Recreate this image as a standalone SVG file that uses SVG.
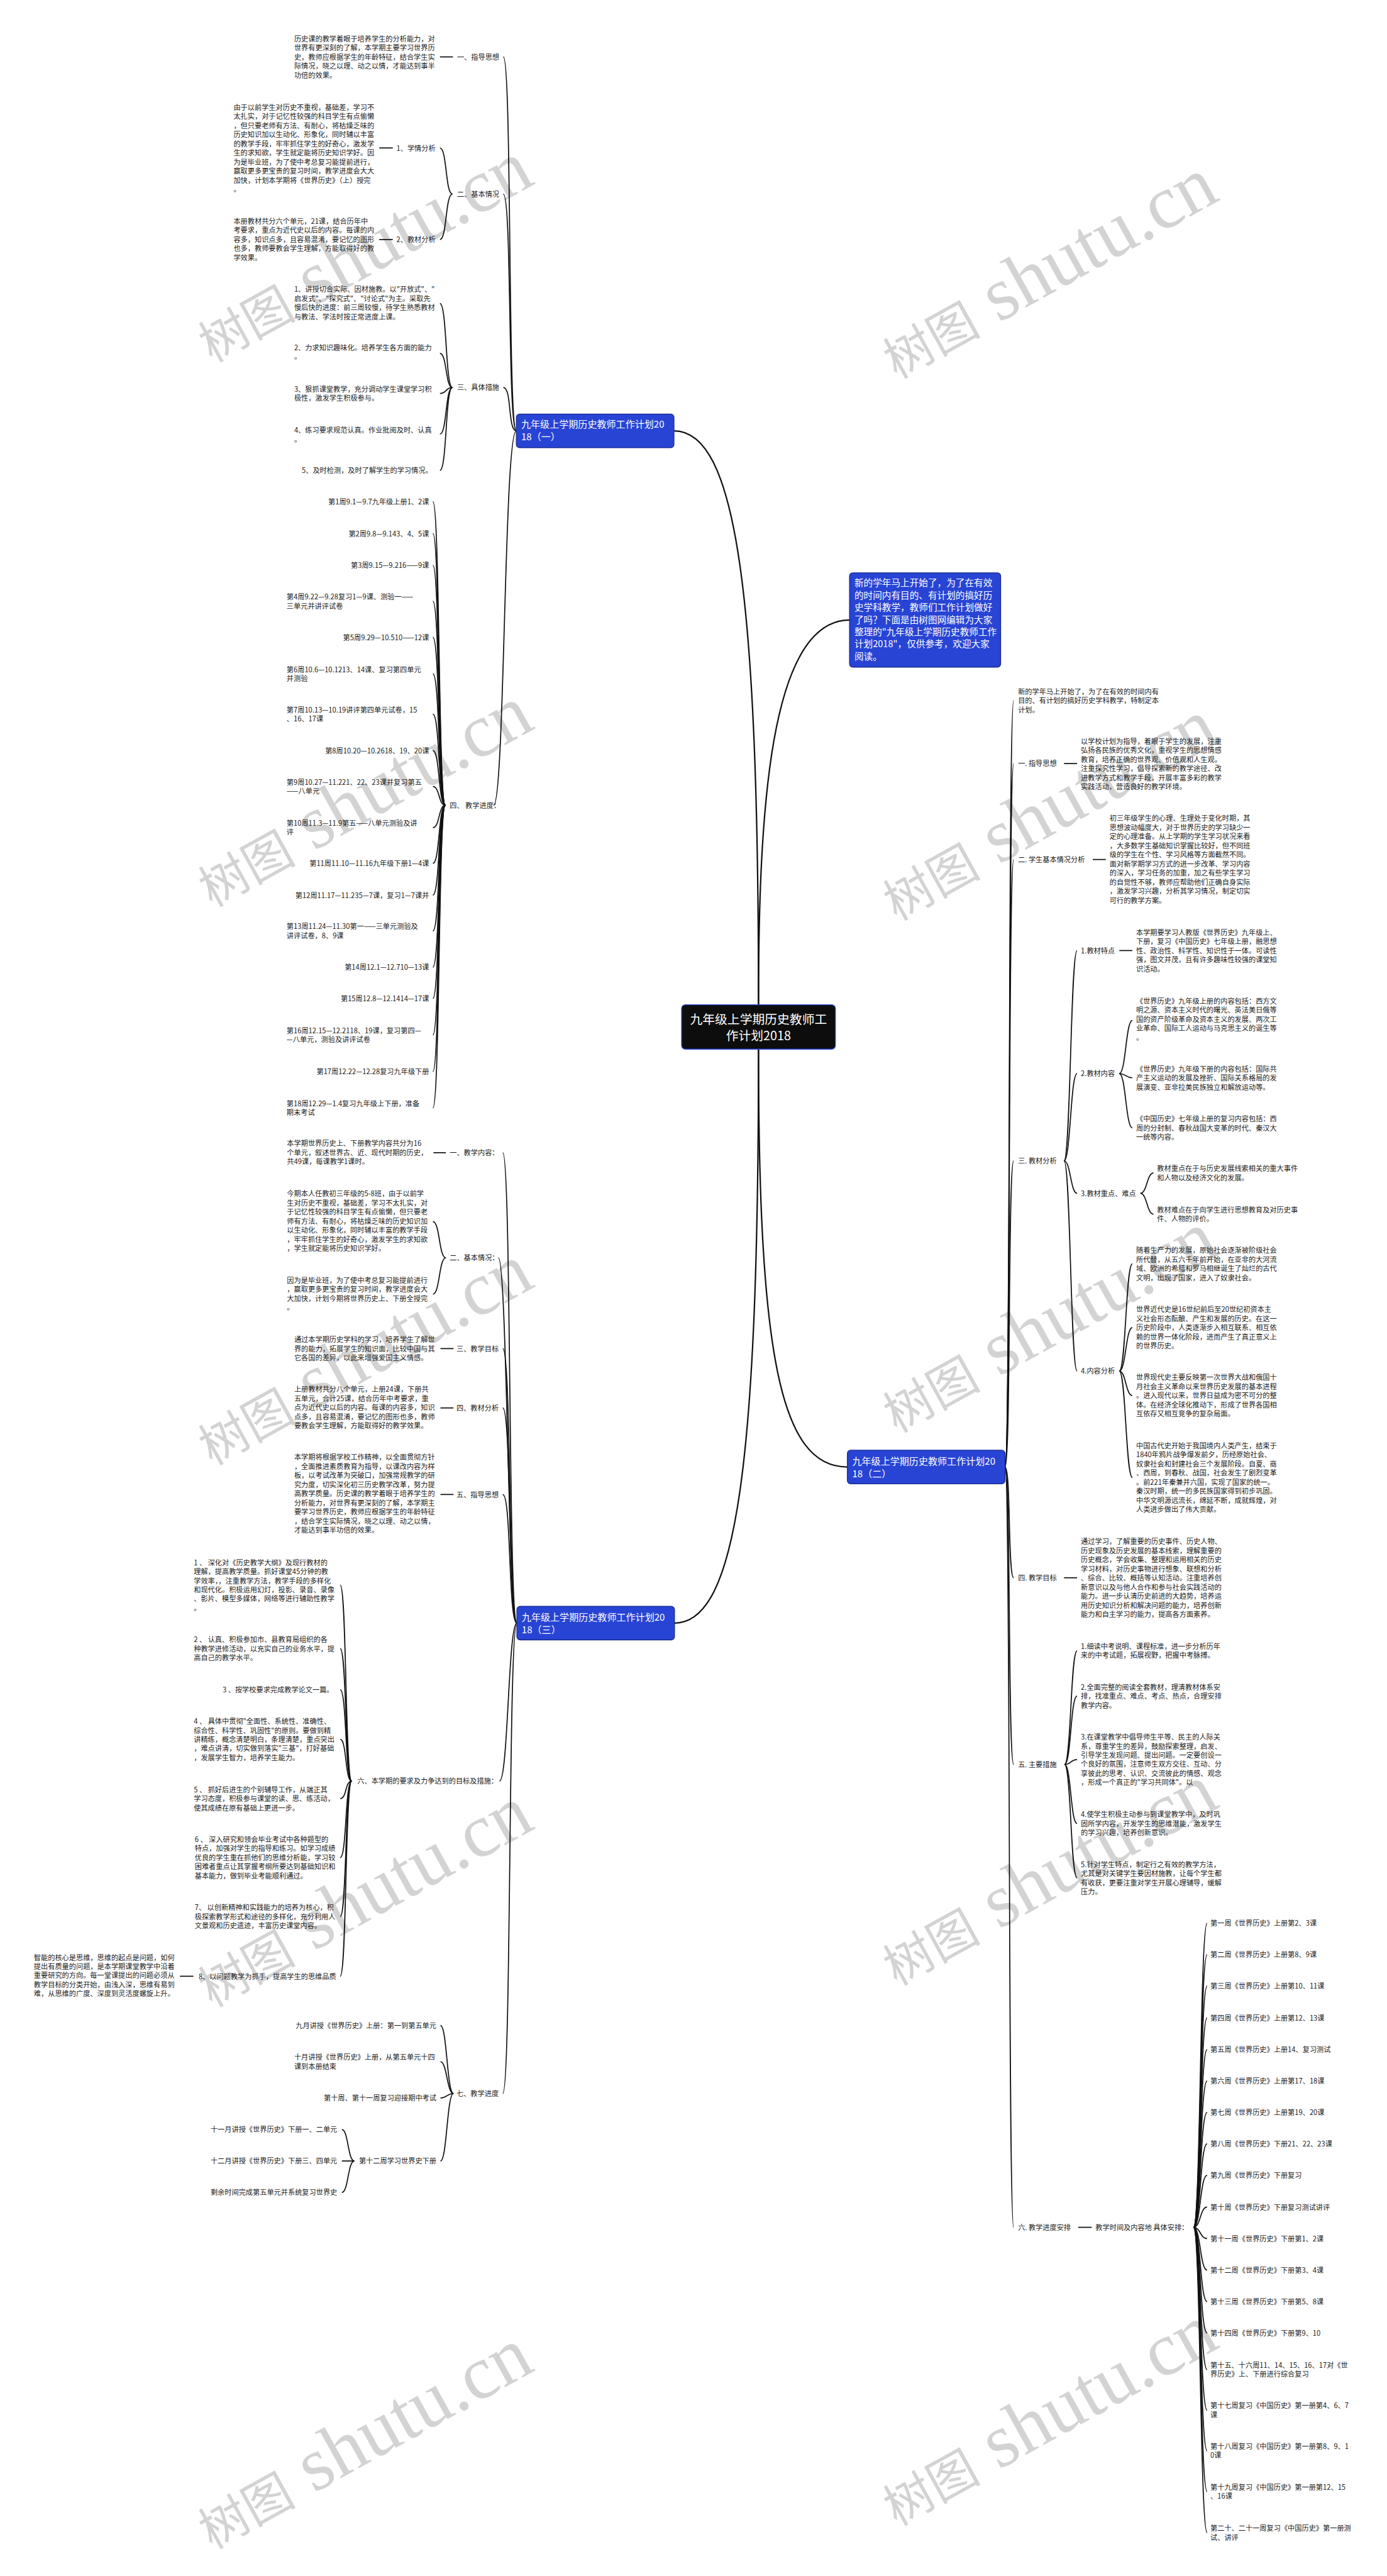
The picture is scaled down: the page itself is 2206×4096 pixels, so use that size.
<svg xmlns="http://www.w3.org/2000/svg" width="2206" height="4096" viewBox="0 0 2206 4096">
<style>
.t{font-family:"Noto Sans CJK SC","Noto Sans",sans-serif;font-size:13px;fill:#1a1a1a}
.e{text-anchor:end}
.bx{fill:#2844d4;stroke:#17298f;stroke-width:1.5}
.bt{font-family:"Noto Sans CJK SC","Noto Sans",sans-serif;font-size:17.5px;fill:#fff}
.rt{font-family:"Noto Sans CJK SC","Noto Sans",sans-serif;font-size:23px;fill:#fff;text-anchor:middle}
.c{fill:none;stroke:#111;stroke-width:2}
.m{fill:none;stroke:#111;stroke-width:2.6}
.wm{fill:#d3d3d3}
.wa{font-family:"Noto Sans CJK SC",sans-serif;font-size:90px}
.wb{font-family:"Liberation Serif",serif;font-size:140px}
</style>
<rect width="2206" height="4096" fill="#fff"/>
<g transform="scale(0.8617)">
<g id="watermarks" class="wm">
<text transform="translate(391,670) rotate(-29)"><tspan class="wa">树图</tspan><tspan class="wb"> shutu.cn</tspan></text>
<text transform="translate(391,1675) rotate(-29)"><tspan class="wa">树图</tspan><tspan class="wb"> shutu.cn</tspan></text>
<text transform="translate(391,2705) rotate(-29)"><tspan class="wa">树图</tspan><tspan class="wb"> shutu.cn</tspan></text>
<text transform="translate(391,3705) rotate(-29)"><tspan class="wa">树图</tspan><tspan class="wb"> shutu.cn</tspan></text>
<text transform="translate(391,4705) rotate(-29)"><tspan class="wa">树图</tspan><tspan class="wb"> shutu.cn</tspan></text>
<text transform="translate(1655,700) rotate(-29)"><tspan class="wa">树图</tspan><tspan class="wb"> shutu.cn</tspan></text>
<text transform="translate(1655,1700) rotate(-29)"><tspan class="wa">树图</tspan><tspan class="wb"> shutu.cn</tspan></text>
<text transform="translate(1655,2645) rotate(-29)"><tspan class="wa">树图</tspan><tspan class="wb"> shutu.cn</tspan></text>
<text transform="translate(1655,3665) rotate(-29)"><tspan class="wa">树图</tspan><tspan class="wb"> shutu.cn</tspan></text>
<text transform="translate(1655,4662) rotate(-29)"><tspan class="wa">树图</tspan><tspan class="wb"> shutu.cn</tspan></text>
</g>

<g id="connectors">
<!-- root level -->
<path class="m" d="M1400,1854 C1400,1500 1420,1144 1568,1144"/>
<path class="m" d="M1400,1854 C1400,1100 1360,795 1244,795"/>
<path class="m" d="M1400,1936 C1400,2700 1360,2995 1245,2995"/>
<path class="m" d="M1400,1936 C1400,2500 1440,2707 1564,2707"/>
<!-- branch 1 -->
<path class="c" d="M953,795 C937,795 945,105 929,105"/>
<path class="c" d="M953,795 C937,795 945,358 929,358"/>
<path class="c" d="M953,795 C937,795 945,715 929,715"/>
<path class="c" d="M953,795 C930,795 932,1486 911,1486"/>
<path class="c" d="M812,105 L836,105"/>
<path class="c" d="M835,358 C822,358 825,273 812,273"/>
<path class="c" d="M835,358 C822,358 825,442 812,442"/>
<path class="c" d="M700,273 L725,273"/>
<path class="c" d="M700,442 L725,442"/>
<path class="c" d="M835,715 C822,715 825,560 812,560"/>
<path class="c" d="M835,715 C822,715 825,652 812,652"/>
<path class="c" d="M835,715 C822,715 825,726 812,726"/>
<path class="c" d="M835,715 C822,715 825,801 812,801"/>
<path class="c" d="M835,715 C822,715 825,868 812,868"/>
<path class="c" d="M822,1486 C809,1486 812,925.7 799,925.7"/>
<path class="c" d="M822,1486 C809,1486 812,984.6 799,984.6"/>
<path class="c" d="M822,1486 C809,1486 812,1043 799,1043"/>
<path class="c" d="M822,1486 C809,1486 812,1109.4 799,1109.4"/>
<path class="c" d="M822,1486 C809,1486 812,1176 799,1176"/>
<path class="c" d="M822,1486 C809,1486 812,1243.4 799,1243.4"/>
<path class="c" d="M822,1486 C809,1486 812,1317.8 799,1317.8"/>
<path class="c" d="M822,1486 C809,1486 812,1385 799,1385"/>
<path class="c" d="M822,1486 C809,1486 812,1451.4 799,1451.4"/>
<path class="c" d="M822,1486 C809,1486 812,1527 799,1527"/>
<path class="c" d="M822,1486 C809,1486 812,1593 799,1593"/>
<path class="c" d="M822,1486 C809,1486 812,1651.7 799,1651.7"/>
<path class="c" d="M822,1486 C809,1486 812,1717.9 799,1717.9"/>
<path class="c" d="M822,1486 C809,1486 812,1784.7 799,1784.7"/>
<path class="c" d="M822,1486 C809,1486 812,1842.5 799,1842.5"/>
<path class="c" d="M822,1486 C809,1486 812,1909.9 799,1909.9"/>
<path class="c" d="M822,1486 C809,1486 812,1977 799,1977"/>
<path class="c" d="M822,1486 C809,1486 812,2044.4 799,2044.4"/>
<!-- branch 3 -->
<path class="c" d="M954,2995 C938,2995 944,2127 928,2127"/>
<path class="c" d="M954,2995 C938,2995 936,2321 920,2321"/>
<path class="c" d="M954,2995 C938,2995 944,2488.5 928,2488.5"/>
<path class="c" d="M954,2995 C938,2995 944,2598 928,2598"/>
<path class="c" d="M954,2995 C938,2995 944,2757.7 928,2757.7"/>
<path class="c" d="M954,2995 C938,2995 938,3286.6 922,3286.6"/>
<path class="c" d="M954,2995 C938,2995 944,3863 928,3863"/>
<path class="c" d="M800,2127 L823,2127"/>
<path class="c" d="M823,2321 C810,2321 812,2254 799,2254"/>
<path class="c" d="M823,2321 C810,2321 812,2388 799,2388"/>
<path class="c" d="M813,2488.5 L837,2488.5"/>
<path class="c" d="M813,2598 L837,2598"/>
<path class="c" d="M813,2757.7 L837,2757.7"/>
<path class="c" d="M649,3286.6 C637,3286.6 640,2925 628,2925"/>
<path class="c" d="M649,3286.6 C637,3286.6 640,3042.2 628,3042.2"/>
<path class="c" d="M649,3286.6 C637,3286.6 640,3118 628,3118"/>
<path class="c" d="M649,3286.6 C637,3286.6 640,3209.6 628,3209.6"/>
<path class="c" d="M649,3286.6 C637,3286.6 640,3318.8 628,3318.8"/>
<path class="c" d="M649,3286.6 C637,3286.6 640,3427.6 628,3427.6"/>
<path class="c" d="M649,3286.6 C637,3286.6 640,3536.8 628,3536.8"/>
<path class="c" d="M649,3286.6 C637,3286.6 640,3646.7 628,3646.7"/>
<path class="c" d="M332,3646.7 L357,3646.7"/>
<path class="c" d="M837,3863 C825,3863 825,3737.6 813,3737.6"/>
<path class="c" d="M837,3863 C825,3863 825,3804.4 813,3804.4"/>
<path class="c" d="M837,3863 C825,3863 825,3871.5 813,3871.5"/>
<path class="c" d="M837,3863 C825,3863 825,3987.6 813,3987.6"/>
<path class="c" d="M654,3987.6 C642,3987.6 643,3929.6 631,3929.6"/>
<path class="c" d="M654,3987.6 L631,3987.6"/>
<path class="c" d="M654,3987.6 C642,3987.6 643,4045.7 631,4045.7"/>
<!-- branch 2 -->
<path class="c" d="M1855,2707 C1866,2707 1860,1292.5 1871,1292.5"/>
<path class="c" d="M1855,2707 C1866,2707 1860,1409 1871,1409"/>
<path class="c" d="M1855,2707 C1866,2707 1860,1586 1871,1586"/>
<path class="c" d="M1855,2707 C1866,2707 1860,2142 1871,2142"/>
<path class="c" d="M1855,2707 C1866,2707 1860,2911.4 1871,2911.4"/>
<path class="c" d="M1855,2707 C1866,2707 1860,3256 1871,3256"/>
<path class="c" d="M1855,2707 C1866,2707 1860,4110 1871,4110"/>
<path class="c" d="M1964,1409 L1988,1409"/>
<path class="c" d="M2017,1586 L2041,1586"/>
<path class="c" d="M1964,2142 C1976,2142 1976,1754 1988,1754"/>
<path class="c" d="M1964,2142 C1976,2142 1976,1981 1988,1981"/>
<path class="c" d="M1964,2142 C1976,2142 1976,2202 1988,2202"/>
<path class="c" d="M1964,2142 C1976,2142 1976,2530 1988,2530"/>
<path class="c" d="M2066,1754 L2090,1754"/>
<path class="c" d="M2066,1981 C2078,1981 2078,1883 2090,1883"/>
<path class="c" d="M2066,1981 C2078,1981 2078,1988.8 2090,1988.8"/>
<path class="c" d="M2066,1981 C2078,1981 2078,2081.3 2090,2081.3"/>
<path class="c" d="M2105,2202 C2117,2202 2117,2164.4 2129,2164.4"/>
<path class="c" d="M2105,2202 C2117,2202 2117,2240.4 2129,2240.4"/>
<path class="c" d="M2066,2530 C2078,2530 2078,2332.2 2090,2332.2"/>
<path class="c" d="M2066,2530 C2078,2530 2078,2449.6 2090,2449.6"/>
<path class="c" d="M2066,2530 C2078,2530 2078,2575.1 2090,2575.1"/>
<path class="c" d="M2066,2530 C2078,2530 2078,2726.3 2090,2726.3"/>
<path class="c" d="M1964,2911.4 L1988,2911.4"/>
<path class="c" d="M1965,3256 C1977,3256 1976,3046.2 1988,3046.2"/>
<path class="c" d="M1965,3256 C1977,3256 1976,3129.8 1988,3129.8"/>
<path class="c" d="M1965,3256 C1977,3256 1976,3247 1988,3247"/>
<path class="c" d="M1965,3256 C1977,3256 1976,3364.8 1988,3364.8"/>
<path class="c" d="M1965,3256 C1977,3256 1976,3465.2 1988,3465.2"/>
<path class="c" d="M1990,4110 L2015,4110"/>
<path class="c" d="M2203,4110 C2216,4110 2215,3549 2228,3549"/>
<path class="c" d="M2203,4110 C2216,4110 2215,3607 2228,3607"/>
<path class="c" d="M2203,4110 C2216,4110 2215,3664.7 2228,3664.7"/>
<path class="c" d="M2203,4110 C2216,4110 2215,3723.6 2228,3723.6"/>
<path class="c" d="M2203,4110 C2216,4110 2215,3781.8 2228,3781.8"/>
<path class="c" d="M2203,4110 C2216,4110 2215,3840 2228,3840"/>
<path class="c" d="M2203,4110 C2216,4110 2215,3898 2228,3898"/>
<path class="c" d="M2203,4110 C2216,4110 2215,3956 2228,3956"/>
<path class="c" d="M2203,4110 C2216,4110 2215,4014 2228,4014"/>
<path class="c" d="M2203,4110 C2216,4110 2215,4072.5 2228,4072.5"/>
<path class="c" d="M2203,4110 C2216,4110 2215,4130.7 2228,4130.7"/>
<path class="c" d="M2203,4110 C2216,4110 2215,4189 2228,4189"/>
<path class="c" d="M2203,4110 C2216,4110 2215,4247 2228,4247"/>
<path class="c" d="M2203,4110 C2216,4110 2215,4305 2228,4305"/>
<path class="c" d="M2203,4110 C2216,4110 2215,4372.5 2228,4372.5"/>
<path class="c" d="M2203,4110 C2216,4110 2215,4447.5 2228,4447.5"/>
<path class="c" d="M2203,4110 C2216,4110 2215,4522.5 2228,4522.5"/>
<path class="c" d="M2203,4110 C2216,4110 2215,4597.5 2228,4597.5"/>
<path class="c" d="M2203,4110 C2216,4110 2215,4673.3 2228,4673.3"/>
</g>

<g id="root">
<rect x="1258" y="1854" width="284" height="82" rx="7" fill="#0d0d0d" stroke="#2a4bd8" stroke-width="1.5"/>
<text class="rt"><tspan x="1400" y="1889">九年级上学期历史教师工</tspan><tspan x="1400" y="1919">作计划2018</tspan></text>
</g>

<g id="intro">
<rect class="bx" x="1568" y="1057" width="279" height="174" rx="6"/>
<text class="bt" style="font-size:17px"><tspan x="1577" y="1082">新的学年马上开始了，为了在有效</tspan><tspan x="1577" y="1104.5">的时间内有目的、有计划的搞好历</tspan><tspan x="1577" y="1127">史学科教学，教师们工作计划做好</tspan><tspan x="1577" y="1149.5">了吗？下面是由树图网编辑为大家</tspan><tspan x="1577" y="1172">整理的&quot;九年级上学期历史教师工作</tspan><tspan x="1577" y="1194.5">计划2018&quot;，仅供参考，欢迎大家</tspan><tspan x="1577" y="1217">阅读。</tspan></text>
</g>

<g id="branch1">
<rect class="bx" x="953" y="764" width="291" height="62" rx="6"/>
<text class="bt"><tspan x="962" y="789.5">九年级上学期历史教师工作计划20</tspan><tspan x="962" y="812.5">18（一）</tspan></text>
</g>
<g id="b1-1">
<text class="t" x="843.6" y="110">一、指导思想</text>
<text class="t"><tspan x="543" y="76.4">历史课的教学着眼于培养学生的分析能力，对</tspan><tspan x="543" y="93.2">世界有更深刻的了解，本学期主要学习世界历</tspan><tspan x="543" y="110">史，教师应根据学生的年龄特征，结合学生实</tspan><tspan x="543" y="126.8">际情况，晓之以理、动之以情，才能达到事半</tspan><tspan x="543" y="143.6">功倍的效果。</tspan></text>
</g>
<g id="b1-2">
<text class="t" x="843.6" y="363">二、基本情况</text>
<text class="t" x="731.7" y="278">1、学情分析</text>
<text class="t"><tspan x="431" y="203">由于以前学生对历史不重视，基础差，学习不</tspan><tspan x="431" y="219.8">太扎实，对于记忆性较强的科目学生有点偷懒</tspan><tspan x="431" y="236.6">，但只要老师有方法、有耐心，将枯燥乏味的</tspan><tspan x="431" y="253.4">历史知识加以生动化、形象化，同时辅以丰富</tspan><tspan x="431" y="270.2">的教学手段，牢牢抓住学生的好奇心，激发学</tspan><tspan x="431" y="287">生的求知欲，学生就定能将历史知识学好。因</tspan><tspan x="431" y="303.8">为是毕业班，为了使中考总复习能提前进行，</tspan><tspan x="431" y="320.6">赢取更多更宝贵的复习时间，教学进度会大大</tspan><tspan x="431" y="337.4">加快，计划本学期将《世界历史》（上）授完</tspan><tspan x="431" y="354.2">。</tspan></text>
<text class="t" x="731.7" y="447">2、教材分析</text>
<text class="t"><tspan x="431" y="413">本册教材共分六个单元，21课，结合历年中</tspan><tspan x="431" y="429.8">考要求，重点为近代史以后的内容。每课的内</tspan><tspan x="431" y="446.6">容多，知识点多，且容易混淆，要记忆的图形</tspan><tspan x="431" y="463.4">也多，教师要教会学生理解，方能取得好的教</tspan><tspan x="431" y="480.2">学效果。</tspan></text>
</g>
<g id="b1-3">
<text class="t" x="843.6" y="720">三、具体措施</text>
<text class="t"><tspan x="543" y="539">1、讲授切合实际、因材施教。以&quot;开放式&quot;、&quot;</tspan><tspan x="543" y="555.8">启发式&quot;、&quot;探究式&quot;、&quot;讨论式&quot;为主。采取先</tspan><tspan x="543" y="572.6">慢后快的进度：前三周较慢，待学生熟悉教材</tspan><tspan x="543" y="589.4">与教法、学法时按正常进度上课。</tspan></text>
<text class="t"><tspan x="543" y="646">2、力求知识趣味化。培养学生各方面的能力</tspan><tspan x="543" y="662.8">。</tspan></text>
<text class="t"><tspan x="543" y="723">3、狠抓课堂教学，充分调动学生课堂学习积</tspan><tspan x="543" y="739.8">极性，激发学生积极参与。</tspan></text>
<text class="t"><tspan x="543" y="798.6">4、练习要求规范认真。作业批阅及时、认真</tspan><tspan x="543" y="815.4">。</tspan></text>
<text class="t e" x="798" y="873">5、及时检测，及时了解学生的学习情况。</text>
</g>
<g id="b1-4">
<text class="t" x="830" y="1491">四、 教学进度：</text>
<text class="t e" x="792" y="930.7">第1周9.1—9.7九年级上册1、2课</text>
<text class="t e" x="792" y="989.6">第2周9.8—9.143、4、5课</text>
<text class="t e" x="792" y="1048">第3周9.15—9.216——9课</text>
<text class="t"><tspan x="529" y="1106">第4周9.22—9.28复习1—9课、测验一——</tspan><tspan x="529" y="1122.8">三单元并讲评试卷</tspan></text>
<text class="t e" x="792" y="1181">第5周9.29—10.510——12课</text>
<text class="t"><tspan x="529" y="1240">第6周10.6—10.1213、14课、复习第四单元</tspan><tspan x="529" y="1256.8">并测验</tspan></text>
<text class="t"><tspan x="529" y="1314.4">第7周10.13—10.19讲评第四单元试卷，15</tspan><tspan x="529" y="1331.2">、16、17课</tspan></text>
<text class="t e" x="792" y="1390">第8周10.20—10.2618、19、20课</text>
<text class="t"><tspan x="529" y="1448">第9周10.27—11.221、22、23课并复习第五</tspan><tspan x="529" y="1464.8">——八单元</tspan></text>
<text class="t"><tspan x="529" y="1523.7">第10周11.3—11.9第五——八单元测验及讲</tspan><tspan x="529" y="1540.5">评</tspan></text>
<text class="t e" x="792" y="1598">第11周11.10—11.16九年级下册1—4课</text>
<text class="t e" x="792" y="1656.7">第12周11.17—11.235—7课，复习1—7课并</text>
<text class="t"><tspan x="529" y="1714.5">第13周11.24—11.30第一——三单元测验及</tspan><tspan x="529" y="1731.3">讲评试卷，8、9课</tspan></text>
<text class="t e" x="792" y="1789.7">第14周12.1—12.710—13课</text>
<text class="t e" x="792" y="1847.5">第15周12.8—12.1414—17课</text>
<text class="t"><tspan x="529" y="1906.5">第16周12.15—12.2118、19课，复习第四—</tspan><tspan x="529" y="1923.3">—八单元，测验及讲评试卷</tspan></text>
<text class="t e" x="792" y="1982">第17周12.22—12.28复习九年级下册</text>
<text class="t"><tspan x="529" y="2041">第18周12.29—1.4复习九年级上下册，准备</tspan><tspan x="529" y="2057.8">期末考试</tspan></text>
</g>

<g id="branch3">
<rect class="bx" x="954" y="2964" width="291" height="62" rx="6"/>
<text class="bt"><tspan x="963" y="2990.5">九年级上学期历史教师工作计划20</tspan><tspan x="963" y="3013.5">18（三）</tspan></text>
</g>
<g id="b3-1">
<text class="t" x="830" y="2132">一、教学内容：</text>
<text class="t"><tspan x="529.6" y="2115">本学期世界历史上、下册教学内容共分为16</tspan><tspan x="529.6" y="2131.8">个单元，叙述世界古、近、现代时期的历史，</tspan><tspan x="529.6" y="2148.6">共49课，每课教学1课时。</tspan></text>
</g>
<g id="b3-2">
<text class="t" x="830" y="2326">二、基本情况：</text>
<text class="t"><tspan x="529.6" y="2207.8">今期本人任教初三年级的5-8班，由于以前学</tspan><tspan x="529.6" y="2224.6">生对历史不重视，基础差，学习不太扎实，对</tspan><tspan x="529.6" y="2241.4">于记忆性较强的科目学生有点偷懒，但只要老</tspan><tspan x="529.6" y="2258.2">师有方法、有耐心，将枯燥乏味的历史知识加</tspan><tspan x="529.6" y="2275">以生动化、形象化，同时辅以丰富的教学手段</tspan><tspan x="529.6" y="2291.8">，牢牢抓住学生的好奇心，激发学生的求知欲</tspan><tspan x="529.6" y="2308.6">，学生就定能将历史知识学好。</tspan></text>
<text class="t"><tspan x="529.6" y="2367">因为是毕业班，为了使中考总复习能提前进行</tspan><tspan x="529.6" y="2383.8">，赢取更多更宝贵的复习时间，教学进度会大</tspan><tspan x="529.6" y="2400.6">大加快，计划今期将世界历史上、下册全授完</tspan><tspan x="529.6" y="2417.4">。</tspan></text>
</g>
<g id="b3-3">
<text class="t" x="842.5" y="2493.5">三、教学目标</text>
<text class="t"><tspan x="543" y="2477">通过本学期历史学科的学习，培养学生了解世</tspan><tspan x="543" y="2493.8">界的能力，拓展学生的知识面，比较中国与其</tspan><tspan x="543" y="2510.6">它各国的差异，以此来增强爱国主义情感。</tspan></text>
</g>
<g id="b3-4">
<text class="t" x="842.5" y="2603">四、教材分析</text>
<text class="t"><tspan x="543" y="2568.5">上册教材共分八个单元，上册24课，下册共</tspan><tspan x="543" y="2585.3">五单元，合计25课，结合历年中考要求，重</tspan><tspan x="543" y="2602.1">点为近代史以后的内容。每课的内容多，知识</tspan><tspan x="543" y="2618.9">点多，且容易混淆，要记忆的图形也多，教师</tspan><tspan x="543" y="2635.7">要教会学生理解，方能取得好的教学效果。</tspan></text>
</g>
<g id="b3-5">
<text class="t" x="842.5" y="2762.7">五、指导思想</text>
<text class="t"><tspan x="543" y="2694">本学期将根据学校工作精神，以全面贯彻方针</tspan><tspan x="543" y="2710.8">，全面推进素质教育为指导，以课改内容为样</tspan><tspan x="543" y="2727.6">板，以考试改革为突破口，加强常规教学的研</tspan><tspan x="543" y="2744.4">究力度，切实深化初三历史教学改革，努力提</tspan><tspan x="543" y="2761.2">高教学质量。历史课的教学着眼于培养学生的</tspan><tspan x="543" y="2778">分析能力，对世界有更深刻的了解，本学期主</tspan><tspan x="543" y="2794.8">要学习世界历史，教师应根据学生的年龄特征</tspan><tspan x="543" y="2811.6">，结合学生实际情况，晓之以理、动之以情，</tspan><tspan x="543" y="2828.4">才能达到事半功倍的效果。</tspan></text>
</g>
<g id="b3-6">
<text class="t" x="659.5" y="3291.6">六、本学期的要求及力争达到的目标及措施：</text>
<text class="t"><tspan x="357.7" y="2888">1 、 深化对《历史教学大纲》及现行教材的</tspan><tspan x="357.7" y="2904.8">理解，提高教学质量。抓好课堂45分钟的教</tspan><tspan x="357.7" y="2921.6">学效率，，注重教学方法，教学手段的多样化</tspan><tspan x="357.7" y="2938.4">和现代化。积极运用幻灯，投影、录音、录像</tspan><tspan x="357.7" y="2955.2">、影片、模型多媒体，网络等进行辅助性教学</tspan><tspan x="357.7" y="2972">。</tspan></text>
<text class="t"><tspan x="357.7" y="3030.4">2 、 认真、积极参加市、县教育局组织的各</tspan><tspan x="357.7" y="3047.2">种教学进修活动，以充实自己的业务水平，提</tspan><tspan x="357.7" y="3064">高自己的教学水平。</tspan></text>
<text class="t e" x="615.7" y="3123">3 、按学校要求完成教学论文一篇。</text>
<text class="t"><tspan x="357.7" y="3181">4 、 具体中贯彻&quot;全面性、系统性、准确性、</tspan><tspan x="357.7" y="3197.8">综合性、科学性、巩固性&quot;的原则。要做到精</tspan><tspan x="357.7" y="3214.6">讲精练，概念清楚明白，条理清楚，重点突出</tspan><tspan x="357.7" y="3231.4">，难点讲清，切实做到落实&quot;三基&quot;，打好基础</tspan><tspan x="357.7" y="3248.2">，发展学生智力，培养学生能力。</tspan></text>
<text class="t"><tspan x="357.7" y="3307">5 、 抓好后进生的个别辅导工作，从端正其</tspan><tspan x="357.7" y="3323.8">学习态度，积极参与课堂的读、思、练活动，</tspan><tspan x="357.7" y="3340.6">使其成绩在原有基础上更进一步。</tspan></text>
<text class="t"><tspan x="359.4" y="3399">6 、 深入研究和领会毕业考试中各种题型的</tspan><tspan x="359.4" y="3415.8">特点，加强对学生的指导和练习。如学习成绩</tspan><tspan x="359.4" y="3432.6">优良的学生重在抓他们的思维分析能，学习较</tspan><tspan x="359.4" y="3449.4">困难者重点让其掌握考纲所要达到基础知识和</tspan><tspan x="359.4" y="3466.2">基本能力，做到毕业考能顺利通过。</tspan></text>
<text class="t"><tspan x="359.4" y="3525">7、 以创新精神和实践能力的培养为核心，积</tspan><tspan x="359.4" y="3541.8">极探索教学形式和途径的多样化，充分利用人</tspan><tspan x="359.4" y="3558.6">文景观和历史遗迹，丰富历史课堂内容。</tspan></text>
<text class="t e" x="620.5" y="3651.7">8、以问题教学为抓手，提高学生的思维品质</text>
<text class="t"><tspan x="62.5" y="3616.7">智能的核心是思维，思维的起点是问题，如何</tspan><tspan x="62.5" y="3633.5">提出有质量的问题，是本学期课堂教学中沿着</tspan><tspan x="62.5" y="3650.3">重要研究的方向。每一堂课提出的问题必须从</tspan><tspan x="62.5" y="3667.1">教学目标的分类开始，由浅入深，思维有易到</tspan><tspan x="62.5" y="3683.9">难，从思维的广度、深度到灵活度螺旋上升。</tspan></text>
</g>
<g id="b3-7">
<text class="t" x="842.5" y="3868">七、教学进度</text>
<text class="t e" x="805.4" y="3742.6">九月讲授《世界历史》上册：第一到第五单元</text>
<text class="t"><tspan x="543" y="3801">十月讲授《世界历史》上册，从第五单元十四</tspan><tspan x="543" y="3817.8">课到本册结束</tspan></text>
<text class="t e" x="805.4" y="3876.5">第十周、第十一周复习迎接期中考试</text>
<text class="t e" x="805.4" y="3992.6">第十二周学习世界史下册</text>
<text class="t e" x="622.4" y="3934.6">十一月讲授《世界历史》下册一、二单元</text>
<text class="t e" x="622.4" y="3992.6">十二月讲授《世界历史》下册三、四单元</text>
<text class="t e" x="622.4" y="4050.7">剩余时间完成第五单元并系统复习世界史</text>
</g>

<g id="branch2">
<rect class="bx" x="1564" y="2676" width="291" height="62" rx="6"/>
<text class="bt"><tspan x="1573" y="2702.5">九年级上学期历史教师工作计划20</tspan><tspan x="1573" y="2725.5">18（二）</tspan></text>
</g>
<g id="b2-0">
<text class="t"><tspan x="1879" y="1280.7">新的学年马上开始了，为了在有效的时间内有</tspan><tspan x="1879" y="1297.5">目的、有计划的搞好历史学科教学，特制定本</tspan><tspan x="1879" y="1314.3">计划。</tspan></text>
</g>
<g id="b2-1">
<text class="t" x="1879" y="1414">一. 指导思想</text>
<text class="t"><tspan x="1995" y="1372.6">以学校计划为指导，着眼于学生的发展，注重</tspan><tspan x="1995" y="1389.4">弘扬各民族的优秀文化，重视学生的思想情感</tspan><tspan x="1995" y="1406.2">教育，培养正确的世界观、价值观和人生观。</tspan><tspan x="1995" y="1423">注重探究性学习，倡导探索新的教学途径、改</tspan><tspan x="1995" y="1439.8">进教学方式和教学手段，开展丰富多彩的教学</tspan><tspan x="1995" y="1456.6">实践活动，营造良好的教学环境。</tspan></text>
</g>
<g id="b2-2">
<text class="t" x="1879" y="1591">二. 学生基本情况分析</text>
<text class="t"><tspan x="2048" y="1515">初三年级学生的心理、生理处于变化时期，其</tspan><tspan x="2048" y="1531.8">思想波动幅度大，对于世界历史的学习缺少一</tspan><tspan x="2048" y="1548.6">定的心理准备。从上学期的学生学习状况来看</tspan><tspan x="2048" y="1565.4">，大多数学生基础知识掌握比较好，但不同班</tspan><tspan x="2048" y="1582.2">级的学生在个性、学习风格等方面截然不同。</tspan><tspan x="2048" y="1599">面对新学期学习方式的进一步改革、学习内容</tspan><tspan x="2048" y="1615.8">的深入，学习任务的加重，加之有些学生学习</tspan><tspan x="2048" y="1632.6">的自觉性不够，教师应帮助他们正确自身实际</tspan><tspan x="2048" y="1649.4">，激发学习兴趣，分析其学习情况，制定切实</tspan><tspan x="2048" y="1666.2">可行的教学方案。</tspan></text>
</g>
<g id="b2-3">
<text class="t" x="1879" y="2147">三. 教材分析</text>
<text class="t" x="1995" y="1759">1.教材特点</text>
<text class="t"><tspan x="2097" y="1725.6">本学期要学习人教版《世界历史》九年级上、</tspan><tspan x="2097" y="1742.4">下册，复习《中国历史》七年级上册，融思想</tspan><tspan x="2097" y="1759.2">性、政治性、科学性、知识性于一体。可读性</tspan><tspan x="2097" y="1776">强，图文并茂，且有许多趣味性较强的课堂知</tspan><tspan x="2097" y="1792.8">识活动。</tspan></text>
<text class="t" x="1995" y="1986">2.教材内容</text>
<text class="t"><tspan x="2097" y="1852">《世界历史》九年级上册的内容包括：西方文</tspan><tspan x="2097" y="1868.8">明之源、资本主义时代的曙光、英法美日俄等</tspan><tspan x="2097" y="1885.6">国的资产阶级革命及资本主义的发展、两次工</tspan><tspan x="2097" y="1902.4">业革命、国际工人运动与马克思主义的诞生等</tspan><tspan x="2097" y="1919.2">。</tspan></text>
<text class="t"><tspan x="2097" y="1977">《世界历史》九年级下册的内容包括：国际共</tspan><tspan x="2097" y="1993.8">产主义运动的发展及挫折、国际关系格局的发</tspan><tspan x="2097" y="2010.6">展演变、亚非拉美民族独立和解放运动等。</tspan></text>
<text class="t"><tspan x="2097" y="2069.5">《中国历史》七年级上册的复习内容包括：西</tspan><tspan x="2097" y="2086.3">周的分封制、春秋战国大变革的时代、秦汉大</tspan><tspan x="2097" y="2103.1">一统等内容。</tspan></text>
<text class="t" x="1995" y="2207">3.教材重点、难点</text>
<text class="t"><tspan x="2135.7" y="2161">教材重点在于与历史发展线索相关的重大事件</tspan><tspan x="2135.7" y="2177.8">和人物以及经济文化的发展。</tspan></text>
<text class="t"><tspan x="2135.7" y="2237">教材难点在于向学生进行思想教育及对历史事</tspan><tspan x="2135.7" y="2253.8">件、人物的评价。</tspan></text>
<text class="t" x="1995" y="2535">4.内容分析</text>
<text class="t"><tspan x="2097" y="2312">随着生产力的发展，原始社会逐渐被阶级社会</tspan><tspan x="2097" y="2328.8">所代替，从五六千年前开始，在亚非的大河流</tspan><tspan x="2097" y="2345.6">域、欧洲的希腊和罗马相继诞生了灿烂的古代</tspan><tspan x="2097" y="2362.4">文明，出现了国家，进入了奴隶社会。</tspan></text>
<text class="t"><tspan x="2097" y="2421">世界近代史是16世纪前后至20世纪初资本主</tspan><tspan x="2097" y="2437.8">义社会形态酝酿、产生和发展的历史。在这一</tspan><tspan x="2097" y="2454.6">历史阶段中，人类逐渐步入相互联系、相互依</tspan><tspan x="2097" y="2471.4">赖的世界一体化阶段，进而产生了真正意义上</tspan><tspan x="2097" y="2488.2">的世界历史。</tspan></text>
<text class="t"><tspan x="2097" y="2546.5">世界现代史主要反映第一次世界大战和俄国十</tspan><tspan x="2097" y="2563.3">月社会主义革命以来世界历史发展的基本进程</tspan><tspan x="2097" y="2580.1">。进入现代以来，世界日益成为密不可分的整</tspan><tspan x="2097" y="2596.9">体。在经济全球化推动下，形成了世界各国相</tspan><tspan x="2097" y="2613.7">互依存又相互竞争的复杂局面。</tspan></text>
<text class="t"><tspan x="2097" y="2672.5">中国古代史开始于我国境内人类产生，结束于</tspan><tspan x="2097" y="2689.3">1840年鸦片战争爆发前夕，历经原始社会、</tspan><tspan x="2097" y="2706.1">奴隶社会和封建社会三个发展阶段。自夏、商</tspan><tspan x="2097" y="2722.9">、西周，到春秋、战国，社会发生了剧烈变革</tspan><tspan x="2097" y="2739.7">。前221年秦兼并六国，实现了国家的统一。</tspan><tspan x="2097" y="2756.5">秦汉时期，统一的多民族国家得到初步巩固。</tspan><tspan x="2097" y="2773.3">中华文明源远流长，绵延不断，成就辉煌，对</tspan><tspan x="2097" y="2790.1">人类进步做出了伟大贡献。</tspan></text>
</g>
<g id="b2-4">
<text class="t" x="1879" y="2916.4">四. 教学目标</text>
<text class="t"><tspan x="1995" y="2849.5">通过学习，了解重要的历史事件、历史人物、</tspan><tspan x="1995" y="2866.3">历史现象及历史发展的基本线索，理解重要的</tspan><tspan x="1995" y="2883.1">历史概念，学会收集、整理和运用相关的历史</tspan><tspan x="1995" y="2899.9">学习材料，对历史事物进行想象、联想和分析</tspan><tspan x="1995" y="2916.7">、综合、比较、概括等认知活动。注重培养创</tspan><tspan x="1995" y="2933.5">新意识以及与他人合作和参与社会实践活动的</tspan><tspan x="1995" y="2950.3">能力。进一步认清历史前进的大趋势，培养运</tspan><tspan x="1995" y="2967.1">用历史知识分析和解决问题的能力，培养创新</tspan><tspan x="1995" y="2983.9">能力和自主学习的能力，提高各方面素养。</tspan></text>
</g>
<g id="b2-5">
<text class="t" x="1879" y="3261">五. 主要措施</text>
<text class="t"><tspan x="1995" y="3042.8">1.细读中考说明、课程标准，进一步分析历年</tspan><tspan x="1995" y="3059.6">来的中考试题，拓展视野，把握中考脉搏。</tspan></text>
<text class="t"><tspan x="1995" y="3118">2.全面完整的阅读全套教材，理清教材体系安</tspan><tspan x="1995" y="3134.8">排，找准重点、难点、考点、热点，合理安排</tspan><tspan x="1995" y="3151.6">教学内容。</tspan></text>
<text class="t"><tspan x="1995" y="3210">3.在课堂教学中倡导师生平等、民主的人际关</tspan><tspan x="1995" y="3226.8">系，尊重学生的差异，鼓励探索整理，启发、</tspan><tspan x="1995" y="3243.6">引导学生发现问题、提出问题。一定要创设一</tspan><tspan x="1995" y="3260.4">个良好的氛围，注意师生双方交往、互动、分</tspan><tspan x="1995" y="3277.2">享彼此的思考、认识、交流彼此的情感、观念</tspan><tspan x="1995" y="3294">，形成一个真正的&quot;学习共同体&quot;。以</tspan></text>
<text class="t"><tspan x="1995" y="3353">4.使学生积极主动参与到课堂教学中，及时巩</tspan><tspan x="1995" y="3369.8">固所学内容，开发学生的思维潜能，激发学生</tspan><tspan x="1995" y="3386.6">的学习兴趣，培养创新意识。</tspan></text>
<text class="t"><tspan x="1995" y="3445">5.针对学生特点，制定行之有效的教学方法，</tspan><tspan x="1995" y="3461.8">尤其是对关键学生要因材施教，让每个学生都</tspan><tspan x="1995" y="3478.6">有收获，更要注重对学生开展心理辅导，缓解</tspan><tspan x="1995" y="3495.4">压力。</tspan></text>
</g>
<g id="b2-6">
<text class="t" x="1879" y="4115">六. 教学进度安排</text>
<text class="t" x="2022" y="4115">教学时间及内容地 具体安排：</text>
<text class="t" x="2234" y="3554">第一周《世界历史》上册第2、3课</text>
<text class="t" x="2234" y="3612">第二周《世界历史》上册第8、9课</text>
<text class="t" x="2234" y="3669.7">第三周《世界历史》上册第10、11课</text>
<text class="t" x="2234" y="3728.6">第四周《世界历史》上册第12、13课</text>
<text class="t" x="2234" y="3786.8">第五周《世界历史》上册14、复习测试</text>
<text class="t" x="2234" y="3845">第六周《世界历史》上册第17、18课</text>
<text class="t" x="2234" y="3903">第七周《世界历史》上册第19、20课</text>
<text class="t" x="2234" y="3961">第八周《世界历史》下册21、22、23课</text>
<text class="t" x="2234" y="4019">第九周《世界历史》下册复习</text>
<text class="t" x="2234" y="4077.5">第十周《世界历史》下册复习测试讲评</text>
<text class="t" x="2234" y="4135.7">第十一周《世界历史》下册第1、2课</text>
<text class="t" x="2234" y="4194">第十二周《世界历史》下册第3、4课</text>
<text class="t" x="2234" y="4252">第十三周《世界历史》下册第5、8课</text>
<text class="t" x="2234" y="4310">第十四周《世界历史》下册第9、10</text>
<text class="t"><tspan x="2234" y="4369">第十五、十六周11、14、15、16、17对《世</tspan><tspan x="2234" y="4385.8">界历史》上、下册进行综合复习</tspan></text>
<text class="t"><tspan x="2234" y="4444">第十七周复习《中国历史》第一册第4、6、7</tspan><tspan x="2234" y="4460.8">课</tspan></text>
<text class="t"><tspan x="2234" y="4519">第十八周复习《中国历史》第一册第8、9、1</tspan><tspan x="2234" y="4535.8">0课</tspan></text>
<text class="t"><tspan x="2234" y="4594">第十九周复习《中国历史》第一册第12、15</tspan><tspan x="2234" y="4610.8">、16课</tspan></text>
<text class="t"><tspan x="2234" y="4670">第二十、二十一周复习《中国历史》第一册测</tspan><tspan x="2234" y="4686.8">试、讲评</tspan></text>
</g>
</g>
</svg>
